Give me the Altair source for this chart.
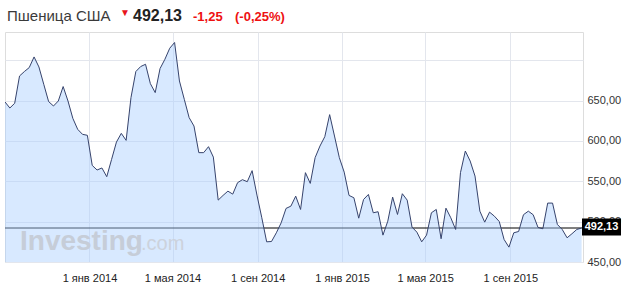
import altair as alt
import pandas as pd

dates = [
    "2013-09-01", "2013-09-08", "2013-09-15", "2013-09-22", "2013-09-29", "2013-10-06",
    "2013-10-13", "2013-10-20", "2013-10-27", "2013-11-03", "2013-11-10", "2013-11-17",
    "2013-11-24", "2013-12-01", "2013-12-08", "2013-12-15", "2013-12-22", "2013-12-29",
    "2014-01-05", "2014-01-12", "2014-01-19", "2014-01-26", "2014-02-02", "2014-02-09",
    "2014-02-16", "2014-02-23", "2014-03-02", "2014-03-09", "2014-03-16", "2014-03-23",
    "2014-03-30", "2014-04-06", "2014-04-13", "2014-04-20", "2014-04-27", "2014-05-04",
    "2014-05-11", "2014-05-18", "2014-05-25", "2014-06-01", "2014-06-08", "2014-06-15",
    "2014-06-22", "2014-06-29", "2014-07-06", "2014-07-13", "2014-07-20", "2014-07-27",
    "2014-08-03", "2014-08-10", "2014-08-17", "2014-08-24", "2014-08-31", "2014-09-07",
    "2014-09-14", "2014-09-21", "2014-09-28", "2014-10-05", "2014-10-12", "2014-10-19",
    "2014-10-26", "2014-11-02", "2014-11-09", "2014-11-16", "2014-11-23", "2014-11-30",
    "2014-12-07", "2014-12-14", "2014-12-21", "2014-12-28",
    "2015-01-04", "2015-01-11", "2015-01-18", "2015-01-25", "2015-02-01", "2015-02-08",
    "2015-02-15", "2015-02-22", "2015-03-01", "2015-03-08", "2015-03-15", "2015-03-22",
    "2015-03-29", "2015-04-05", "2015-04-12", "2015-04-19", "2015-04-26", "2015-05-03",
    "2015-05-10", "2015-05-17", "2015-05-24", "2015-05-31", "2015-06-07", "2015-06-14",
    "2015-06-21", "2015-06-28", "2015-07-05", "2015-07-12", "2015-07-19", "2015-07-26",
    "2015-08-02", "2015-08-09", "2015-08-16", "2015-08-23", "2015-08-30", "2015-09-06",
    "2015-09-13", "2015-09-20", "2015-09-27", "2015-10-04", "2015-10-11", "2015-10-18",
    "2015-10-25", "2015-11-01", "2015-11-08", "2015-11-15", "2015-11-22", "2015-11-29",
    "2015-12-06", "2015-12-13",
]

prices = [
    648.3, 640.8, 646.7, 680.5, 686.0, 690.9, 704.1, 691.7, 670.2, 648.8,
    643.3, 649.5, 667.4, 649.5, 628.0, 614.4, 608.2, 607.0, 569.7, 564.0,
    566.5, 555.7, 577.2, 598.6, 609.4, 600.7, 653.7, 686.0, 692.2, 695.0,
    671.0, 659.9, 689.7, 701.2, 714.9, 722.0, 674.3, 651.6, 628.9, 618.5,
    585.5, 585.5, 592.9, 580.0, 526.7, 532.5, 537.8, 534.1, 548.3, 552.0,
    549.5, 563.2, 532.9, 504.8, 475.0, 475.4, 486.2, 498.6, 516.4, 519.2,
    531.6, 515.1, 560.7, 547.4, 579.3, 593.7, 605.3, 632.6, 606.1, 579.3,
    561.4, 532.5, 529.6, 504.3, 527.5, 533.7, 511.0, 512.3, 483.3, 500.6,
    530.4, 508.9, 534.6, 526.7, 493.2, 487.0, 475.0, 483.3, 511.0, 515.1,
    478.8, 516.7, 504.8, 490.3, 560.7, 587.5, 575.1, 556.5, 513.0, 499.4,
    511.8, 506.8, 500.2, 477.9, 468.4, 486.2, 487.8, 508.6, 513.0, 508.6,
    492.8, 491.2, 523.0, 523.0, 496.5, 490.3, 480.0, 485.0, 490.3, 492.13,
]

last_price = [492.13]
y_ticks = [450, 500, 550, 600, 650, 700]
x_tick_dates = [(2014, 1), (2014, 5), (2014, 9), (2015, 1), (2015, 5), (2015, 9)]
month_names = ["янв", "фев", "мар", "апр", "мая", "июн", "июл", "авг", "сен", "окт", "ноя", "дек"]

title_name = "Пшеница США"
title_price = "492,13"
title_change = "-1,25"
title_pct = "(-0,25%)"

FONT = "Liberation Sans"
W, H = 578, 230

df = pd.DataFrame({"date": dates, "price": prices})

x_scale = alt.Scale(domain=[alt.DateTime(year=2013, month=9, date=1, utc=True),
                            alt.DateTime(year=2015, month=12, date=15, utc=True)])
y_scale = alt.Scale(domain=[450, 735], zero=False, nice=False)

month_arr = "[" + ",".join(f"'{m}'" for m in month_names) + "]"
x_label_expr = ("utcdate(datum.value) + ' ' + " + month_arr +
                "[utcmonth(datum.value)] + ' ' + utcyear(datum.value)")

x_axis = alt.Axis(
    values=[alt.DateTime(year=y, month=m, date=1, utc=True) for y, m in x_tick_dates],
    labelExpr=x_label_expr, title=None, ticks=False, domain=False,
    grid=True, gridColor="#e3e6ed", labelPadding=10, labelFontSize=11,
    labelFont=FONT, labelColor="#222", labelFlush=False, labelOverlap=False,
)
y_axis = alt.Axis(
    orient="right", values=y_ticks, title=None, ticks=False, domain=False,
    labelExpr="datum.value >= 700 ? '' : replace(format(datum.value, '.2f'), '.', ',')",
    grid=True, gridColor="#e3e6ed", labelPadding=4, labelFontSize=11,
    labelFont=FONT, labelColor="#333", labelFlush=False, labelOverlap=False,
    labelAlign="left",
)

base = alt.Chart(df)

area = base.mark_area(color="#a8cfff", opacity=0.45, clip=True).encode(
    x=alt.X("date:T", scale=x_scale, axis=x_axis),
    y=alt.Y("price:Q", scale=y_scale, axis=y_axis),
)
line = base.mark_line(color="#36436c", strokeWidth=1, clip=True).encode(
    x=alt.X("date:T", scale=x_scale, axis=x_axis),
    y=alt.Y("price:Q", scale=y_scale, axis=y_axis),
)

pdf = pd.DataFrame({"p": last_price, "label": [title_price]})
rule = alt.Chart(pdf).mark_rule(color="#000000", strokeWidth=1).encode(
    y=alt.Y("p:Q", scale=y_scale, axis=y_axis),
    x=alt.value(0), x2=alt.value(W),
)
box = alt.Chart(pdf).mark_rect(color="#000000", yOffset=-9.5, y2Offset=7.5).encode(
    y=alt.Y("p:Q", scale=y_scale, axis=y_axis),
    y2=alt.Y2("p:Q"),
    x=alt.value(577), x2=alt.value(616),
)
box_text = alt.Chart(pdf).mark_text(
    color="white", font=FONT, fontSize=11, fontWeight="bold", align="center",
    baseline="middle", dy=-1,
).encode(
    y=alt.Y("p:Q", scale=y_scale, axis=y_axis),
    x=alt.value(596.5), text="label:N",
)


def txt(s, x, y, size, color, weight="normal", baseline="alphabetic"):
    return alt.Chart(pd.DataFrame({"t": [s]})).mark_text(
        font=FONT, fontSize=size, fontWeight=weight, color=color,
        align="left", baseline=baseline,
    ).encode(x=alt.value(x), y=alt.value(y), text="t:N")


wm1 = txt("Investing", 15, 218, 28, "#c6cdd8", "bold")
wm2 = txt(".com", 136, 218, 20, "#ccd2dc")

t1 = txt(title_name, 2, -11.5, 15, "#3a3a3a")
t2 = txt("▼", 115, -16, 10, "#e8141c")
t3 = txt(title_price, 128, -11.5, 16, "#222222", "bold")
t4 = txt(title_change, 188, -11.5, 13, "#ee1111", "bold")
t5 = txt(title_pct, 230, -11.5, 13, "#ee1111", "bold")

chart = alt.layer(
    rule, area, line, wm1, wm2, box, box_text, t1, t2, t3, t4, t5
).properties(
    width=W, height=H,
    autosize=alt.AutoSizeParams(type="none"),
    padding={"left": 5, "top": 32, "right": 41, "bottom": 31},
).configure_view(
    stroke="#dde1e8", strokeWidth=1,
).configure(background="white")

chart.save("out.html", embed_options={"renderer": "svg", "actions": False})
